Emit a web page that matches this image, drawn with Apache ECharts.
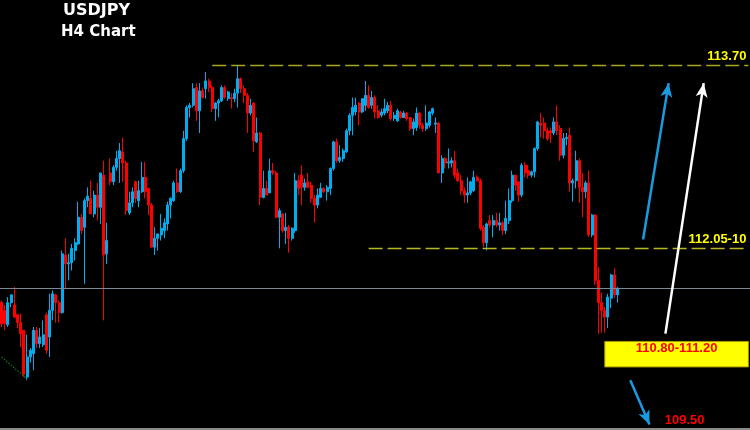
<!DOCTYPE html>
<html>
<head>
<meta charset="utf-8">
<script src="https://cdn.jsdelivr.net/npm/echarts/dist/echarts.min.js"></script>
<style>
html,body{margin:0;padding:0;background:#000;}
#chart{width:750px;height:430px;}
</style>
</head>
<body>
<div id="chart"></div>
<script>
// USDJPY H4 candles (price values)
const opens = [
111.56,111.49,111.36,111.56,111.54,111.45,111.38,111.31,110.89,111.07,
111.10,111.31,111.19,111.18,111.45,111.25,111.49,111.63,111.56,111.47,
111.99,111.91,111.92,112.03,112.09,112.33,112.24,112.48,112.50,112.36,
112.53,112.42,112.71,112.00,112.73,112.65,112.78,112.86,112.92,112.82,
112.37,112.46,112.65,112.48,112.56,112.69,112.59,112.44,112.06,112.14,
112.17,112.21,112.27,112.44,112.48,112.64,112.56,112.75,113.04,113.32,
113.34,113.50,113.29,113.47,113.49,113.56,113.50,113.31,113.36,113.38,
113.50,113.40,113.41,113.40,113.45,113.58,113.49,113.43,113.27,113.36,
113.01,113.09,112.51,112.59,112.55,112.75,112.73,112.33,112.36,112.21,
112.24,112.14,112.21,112.66,112.71,112.60,112.65,112.62,112.50,112.44,
112.51,112.59,112.56,112.59,112.77,113.01,112.84,112.86,112.92,113.11,
113.25,113.28,113.36,113.28,113.34,113.43,113.34,113.41,113.29,113.25,
113.27,113.29,113.34,113.22,113.20,113.28,113.23,113.27,113.23,113.13,
113.14,113.27,113.16,113.13,113.16,113.27,113.17,113.18,112.73,112.86,
112.82,112.82,112.84,112.73,112.66,112.57,112.53,112.55,112.57,112.69,
112.66,112.24,112.10,112.30,112.26,112.30,112.26,112.28,112.21,112.30,
112.48,112.71,112.65,112.53,112.80,112.75,112.71,112.74,112.95,113.18,
113.18,113.11,113.11,113.09,113.19,113.13,112.89,113.04,113.07,112.64,
112.66,112.84,112.60,112.56,112.64,112.17,112.35,111.76,111.56,111.49,
111.43,111.60,111.81,111.63
];
const closes = [
111.37,111.37,111.56,111.63,111.43,111.38,111.28,110.91,111.07,111.13,
111.31,111.19,111.25,111.27,111.13,111.49,111.64,111.56,111.47,112.00,
111.91,111.92,112.05,112.10,112.33,112.21,112.48,112.52,112.36,112.53,
112.42,112.73,111.99,112.12,112.65,112.78,112.86,112.93,112.82,112.39,
112.46,112.56,112.50,112.57,112.69,112.56,112.44,112.06,112.14,112.18,
112.23,112.28,112.44,112.50,112.64,112.56,112.75,113.04,113.32,113.34,
113.49,113.29,113.47,113.41,113.56,113.50,113.31,113.36,113.38,113.50,
113.41,113.46,113.40,113.45,113.58,113.49,113.43,113.27,113.34,113.02,
113.09,112.51,112.59,112.53,112.75,112.73,112.33,112.39,112.21,112.24,
112.14,112.23,112.66,112.59,112.60,112.64,112.60,112.50,112.44,112.53,
112.59,112.56,112.60,112.77,113.01,112.84,112.87,112.93,113.11,113.25,
113.32,113.34,113.28,113.40,113.43,113.32,113.41,113.28,113.23,113.28,
113.31,113.34,113.22,113.25,113.29,113.23,113.27,113.22,113.13,113.19,
113.27,113.16,113.13,113.18,113.28,113.31,113.18,112.73,112.86,112.82,
112.83,112.84,112.71,112.66,112.57,112.53,112.55,112.65,112.69,112.66,
112.23,112.10,112.27,112.26,112.30,112.26,112.28,112.21,112.32,112.48,
112.71,112.62,112.53,112.80,112.73,112.71,112.74,112.95,113.19,113.16,
113.11,113.04,113.09,113.19,113.11,112.89,113.04,113.05,112.64,112.66,
112.84,112.60,112.56,112.64,112.17,112.35,111.76,111.56,111.49,111.43,
111.61,111.81,111.63,111.69
];
const lows = [
111.34,111.31,111.34,111.52,111.42,111.33,111.16,110.89,110.86,111.02,
110.95,111.15,111.15,111.16,111.10,111.07,111.40,111.38,111.38,111.46,
111.69,111.76,111.85,111.94,112.08,112.18,111.73,112.42,112.36,112.33,
112.30,112.27,111.40,111.91,112.62,112.62,112.75,112.64,112.65,112.35,
112.35,112.42,112.46,112.42,112.55,112.50,112.35,112.06,111.99,112.03,
112.12,112.14,112.21,112.32,112.47,112.55,112.55,112.73,113.02,113.23,
113.32,113.20,113.09,113.40,113.40,113.46,113.28,113.20,113.23,113.37,
113.40,113.38,113.31,113.37,113.32,113.45,113.36,113.09,113.25,112.92,
113.00,112.44,112.50,112.53,112.55,112.71,112.32,112.05,112.19,112.09,
112.01,112.12,112.19,112.53,112.44,112.57,112.59,112.46,112.28,112.41,
112.51,112.55,112.48,112.53,112.75,112.82,112.82,112.83,112.91,113.07,
113.07,113.25,113.16,113.27,113.29,113.31,113.31,113.22,113.22,113.23,
113.25,113.27,113.20,113.20,113.19,113.22,113.23,113.20,113.11,113.07,
113.11,113.13,113.10,113.11,113.14,113.25,113.09,112.73,112.64,112.77,
112.77,112.78,112.68,112.65,112.53,112.46,112.46,112.53,112.56,112.65,
112.21,112.06,112.03,112.24,112.15,112.24,112.21,112.17,112.18,112.27,
112.46,112.57,112.47,112.51,112.69,112.68,112.69,112.69,112.93,113.05,
113.04,113.02,113.00,113.07,113.07,112.84,112.86,112.98,112.56,112.47,
112.59,112.46,112.33,112.50,112.15,112.15,111.72,111.28,111.29,111.29,
111.33,111.51,111.60,111.56
];
const highs = [
111.58,111.54,111.61,111.63,111.70,111.46,111.46,111.31,111.27,111.15,
111.34,111.34,111.33,111.40,111.47,111.64,111.67,111.64,111.58,112.03,
112.14,112.00,112.09,112.14,112.47,112.36,112.50,112.60,112.66,112.57,
112.64,112.73,112.84,112.28,112.86,112.80,112.93,113.00,113.05,112.84,
112.56,112.60,112.66,112.66,112.83,112.83,112.59,112.46,112.24,112.18,
112.36,112.32,112.47,112.51,112.66,112.77,112.77,113.11,113.34,113.36,
113.54,113.54,113.54,113.50,113.64,113.58,113.52,113.37,113.40,113.52,
113.52,113.47,113.45,113.49,113.70,113.59,113.52,113.45,113.40,113.37,
113.23,113.10,112.75,112.66,112.86,112.82,112.75,112.41,112.37,112.37,
112.26,112.24,112.73,112.71,112.80,112.68,112.73,112.65,112.53,112.59,
112.64,112.60,112.62,112.78,113.02,113.04,112.98,112.95,113.13,113.27,
113.41,113.41,113.37,113.40,113.56,113.52,113.47,113.43,113.34,113.31,
113.40,113.37,113.38,113.28,113.31,113.29,113.29,113.28,113.23,113.22,
113.32,113.28,113.18,113.34,113.29,113.32,113.23,113.19,112.89,112.87,
112.95,112.87,112.93,112.77,112.71,112.60,112.69,112.66,112.75,112.71,
112.68,112.26,112.28,112.35,112.35,112.37,112.37,112.30,112.48,112.59,
112.75,112.71,112.65,112.82,112.83,112.80,112.75,112.96,113.20,113.27,
113.23,113.14,113.14,113.23,113.34,113.16,113.09,113.09,113.14,112.68,
112.93,112.86,112.73,112.66,112.75,112.36,112.36,111.88,111.65,111.52,
111.64,111.82,111.87,111.70
];
// bar slots on the time axis (candles + empty space to the right)
const slotCount = 235;
const categories = Array.from({length: slotCount}, (_, i) => 'bar ' + (i + 1));

// annotation levels
const resistanceLevel = 113.70;
const supportLevel = 112.05;
const currentLevel = 111.69;
const zoneHigh = 111.21, zoneLow = 110.98;
const resistanceText = '113.70';
const supportText = '112.05-10';
const zoneText = '110.80-111.20';
const targetText = '109.50';

const candleData = opens.map((o, i) => [o, closes[i], lows[i], highs[i]]);

const chart = echarts.init(document.getElementById('chart'), null, {renderer: 'canvas'});
const lblFont = {fontFamily: 'Liberation Sans', fontWeight: 'bold'};

chart.setOption({
  backgroundColor: '#000000',
  animation: false,
  title: [
    {text: 'USDJPY', left: 63, top: 3, padding: 0,
     textStyle: {color: '#ffffff', fontSize: 16, fontWeight: 'bold', fontFamily: 'DejaVu Sans'}},
    {text: 'H4 Chart', left: 61, top: 25, padding: 0,
     textStyle: {color: '#ffffff', fontSize: 15, fontWeight: 'bold', fontFamily: 'DejaVu Sans'}}
  ],
  grid: {left: 0, right: 0, top: 0, bottom: 1, containLabel: false},
  xAxis: {
    type: 'category', data: categories, boundaryGap: true,
    axisLine: {show: true, lineStyle: {color: '#8a8a8a', width: 2}},
    axisTick: {show: false}, axisLabel: {show: false}, splitLine: {show: false}
  },
  yAxis: {
    type: 'value', min: 110.42, max: 114.29, scale: true,
    axisLine: {show: false}, axisTick: {show: false}, axisLabel: {show: false}, splitLine: {show: false}
  },
  series: [{
    type: 'candlestick',
    data: candleData,
    barWidth: 2.5,
    itemStyle: {color: '#00AEEF', color0: '#FF0000', borderColor: '#00AEEF', borderColor0: '#FF0000', borderWidth: 1},
    markLine: {
      silent: true, animation: false, symbol: ['none', 'none'],
      data: [
        {yAxis: currentLevel, lineStyle: {color: '#7c8896', width: 1, type: 'solid'}, label: {show: false}},
        [{coord: [66, resistanceLevel], lineStyle: {color: '#a8a820', width: 1.3, type: [14, 5]},
          label: Object.assign({show: true, formatter: resistanceText, position: 'insideEndTop', distance: 2, color: '#ffff00', fontSize: 13}, lblFont)},
         {coord: [234, resistanceLevel]}],
        [{coord: [115, supportLevel], lineStyle: {color: '#b8b820', width: 1.3, type: [14, 5]},
          label: Object.assign({show: true, formatter: supportText, position: 'insideEndTop', distance: 2, color: '#ffff00', fontSize: 13}, lblFont)},
         {coord: [234, supportLevel]}],
        [{coord: [201, 112.13], symbol: 'none', lineStyle: {color: '#1a9be0', width: 2.5, type: 'solid'}, label: {show: false}},
         {coord: [209, 113.54], symbol: 'arrow', symbolSize: [9, 14]}],
        [{coord: [208, 111.28], symbol: 'none', lineStyle: {color: '#ffffff', width: 2.5, type: 'solid'}, label: {show: false}},
         {coord: [220, 113.54], symbol: 'arrow', symbolSize: [9, 14]}],
        [{coord: [197, 110.86], symbol: 'none', lineStyle: {color: '#1a9be0', width: 2.5, type: 'solid'}, label: {show: false}},
         {coord: [203, 110.46], symbol: 'arrow', symbolSize: [9, 14]}],
        [{coord: [0, 111.07], symbol: 'none', lineStyle: {color: '#0b6a12', width: 1.5, type: 'dotted'}, label: {show: false}},
         {coord: [8, 110.87], symbol: 'none'}]
      ]
    },
    markArea: {
      silent: true,
      data: [[
        {coord: [189, zoneHigh], itemStyle: {color: '#ffff00', borderColor: '#a89a00', borderWidth: 1},
         label: Object.assign({show: true, formatter: zoneText, position: 'insideTop', distance: 1, color: '#ff0000', fontSize: 13}, lblFont)},
        {coord: [234, zoneLow]}
      ]]
    },
    markPoint: {
      silent: true, animation: false,
      data: [{coord: [214, 110.50], symbol: 'rect', symbolSize: 1, itemStyle: {color: 'rgba(0,0,0,0)'},
        label: Object.assign({show: true, position: 'inside', formatter: targetText, color: '#ff0000', fontSize: 13}, lblFont)}]
    }
  }]
});
</script>
</body>
</html>
